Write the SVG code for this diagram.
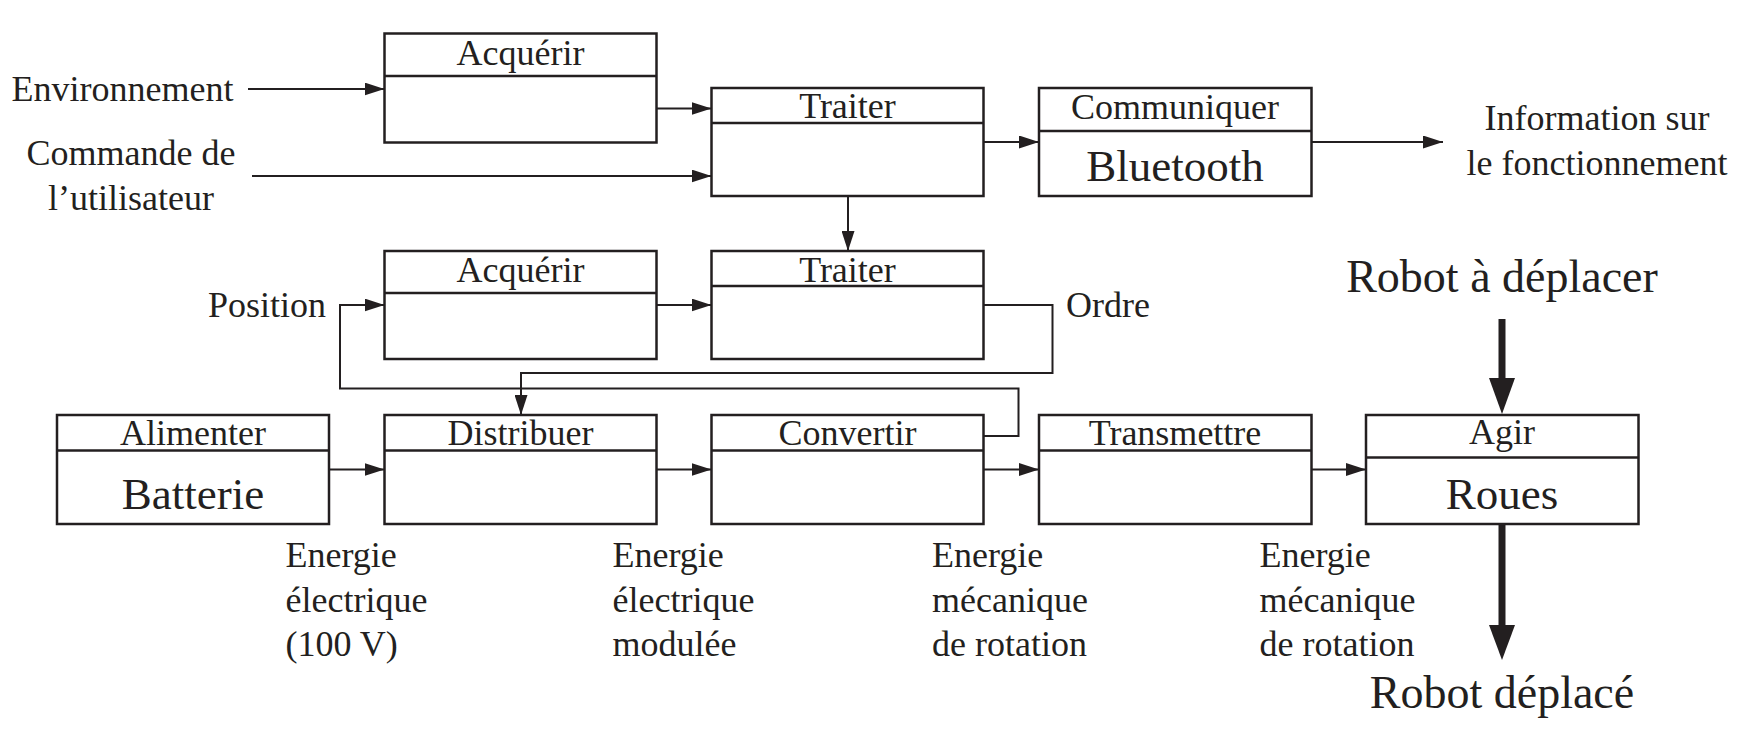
<svg xmlns="http://www.w3.org/2000/svg" width="1740" height="745" viewBox="0 0 1740 745">
<style>
  text { font-family: "Liberation Serif", "Times New Roman", serif; fill: #231f20; }
  .h { font-size: 36px; text-anchor: middle; }
  .big { font-size: 45px; text-anchor: middle; }
  .lbl { font-size: 36px; }
  .huge { font-size: 46px; text-anchor: middle; }
  .box { fill: #ffffff; stroke: #231f20; stroke-width: 2.5; }
  .div { stroke: #231f20; stroke-width: 2.5; }
  .c { fill: none; stroke: #231f20; stroke-width: 2; }
  .ca { fill: none; stroke: #231f20; stroke-width: 2; marker-end: url(#arr); }
</style>
<defs>
  <marker id="arr" viewBox="0 0 20 13" refX="20" refY="6.5" markerWidth="20" markerHeight="13" markerUnits="userSpaceOnUse" orient="auto">
    <path d="M0,0 L20,6.5 L0,13 Z" fill="#231f20"/>
  </marker>
</defs>
<rect width="1740" height="745" fill="#ffffff"/>

<g id="connectors">
  <line class="ca" x1="248" y1="89" x2="384.5" y2="89"/>
  <line class="ca" x1="656.5" y1="108.5" x2="711.5" y2="108.5"/>
  <line class="ca" x1="252" y1="176" x2="711.5" y2="176"/>
  <line class="ca" x1="983.5" y1="142" x2="1039" y2="142"/>
  <line class="ca" x1="1311.5" y1="142" x2="1443" y2="142"/>
  <line class="ca" x1="848" y1="196" x2="848" y2="251"/>
  <path class="ca" d="M983.5,436 H1018.5 V388.5 H340 V305 H384.5"/>
  <line class="ca" x1="656.5" y1="305" x2="711.5" y2="305"/>
  <path class="ca" d="M983.5,305 H1052.5 V373 H521 V415"/>
  <line class="ca" x1="329" y1="469.5" x2="384.5" y2="469.5"/>
  <line class="ca" x1="656.5" y1="469.5" x2="711.5" y2="469.5"/>
  <line class="ca" x1="983.5" y1="469.5" x2="1039" y2="469.5"/>
  <line class="ca" x1="1311.5" y1="469.5" x2="1366" y2="469.5"/>
  <line x1="1502" y1="319" x2="1502" y2="380" stroke="#231f20" stroke-width="7"/>
  <polygon points="1489,378 1515,378 1502,414" fill="#231f20"/>
  <line x1="1502" y1="524" x2="1502" y2="627" stroke="#231f20" stroke-width="7"/>
  <polygon points="1489,625 1515,625 1502,660" fill="#231f20"/>
</g>

<g id="acquerir1">
  <rect class="box" x="384.5" y="33.5" width="272" height="109"/>
  <line class="div" x1="384.5" y1="76" x2="656.5" y2="76"/>
  <text class="h" x="520.5" y="64.5">Acquérir</text>
</g>
<g id="traiter1">
  <rect class="box" x="711.5" y="88" width="272" height="108"/>
  <line class="div" x1="711.5" y1="123" x2="983.5" y2="123"/>
  <text class="h" x="847.5" y="117.5">Traiter</text>
</g>
<g id="communiquer">
  <rect class="box" x="1039" y="88" width="272.5" height="108"/>
  <line class="div" x1="1039" y1="131" x2="1311.5" y2="131"/>
  <text class="h" x="1175" y="118.5">Communiquer</text>
  <text class="big" x="1175" y="181">Bluetooth</text>
</g>
<g id="acquerir2">
  <rect class="box" x="384.5" y="251" width="272" height="108"/>
  <line class="div" x1="384.5" y1="293" x2="656.5" y2="293"/>
  <text class="h" x="520.5" y="282">Acquérir</text>
</g>
<g id="traiter2">
  <rect class="box" x="711.5" y="251" width="272" height="108"/>
  <line class="div" x1="711.5" y1="286" x2="983.5" y2="286"/>
  <text class="h" x="847.5" y="281.5">Traiter</text>
</g>
<g id="alimenter">
  <rect class="box" x="57" y="415" width="272" height="109"/>
  <line class="div" x1="57" y1="450.5" x2="329" y2="450.5"/>
  <text class="h" x="193" y="444.5">Alimenter</text>
  <text class="big" x="193" y="508.5">Batterie</text>
</g>
<g id="distribuer">
  <rect class="box" x="384.5" y="415" width="272" height="109"/>
  <line class="div" x1="384.5" y1="450.5" x2="656.5" y2="450.5"/>
  <text class="h" x="520.5" y="444.5">Distribuer</text>
</g>
<g id="convertir">
  <rect class="box" x="711.5" y="415" width="272" height="109"/>
  <line class="div" x1="711.5" y1="450.5" x2="983.5" y2="450.5"/>
  <text class="h" x="847.5" y="444.5">Convertir</text>
</g>
<g id="transmettre">
  <rect class="box" x="1039" y="415" width="272.5" height="109"/>
  <line class="div" x1="1039" y1="450.5" x2="1311.5" y2="450.5"/>
  <text class="h" x="1175" y="444.5">Transmettre</text>
</g>
<g id="agir">
  <rect class="box" x="1366" y="415" width="272.5" height="109"/>
  <line class="div" x1="1366" y1="457.5" x2="1638.5" y2="457.5"/>
  <text class="h" x="1502" y="444">Agir</text>
  <text class="big" x="1502" y="508.5">Roues</text>
</g>

<g id="labels">
  <text class="lbl" x="11.5" y="101">Environnement</text>
  <text class="lbl" x="131" y="165" text-anchor="middle">Commande de</text>
  <text class="lbl" x="131" y="210" text-anchor="middle">l’utilisateur</text>
  <text class="lbl" x="1597" y="130" text-anchor="middle">Information sur</text>
  <text class="lbl" x="1597" y="175" text-anchor="middle">le fonctionnement</text>
  <text class="lbl" x="326" y="317" text-anchor="end">Position</text>
  <text class="lbl" x="1066" y="317">Ordre</text>
  <text class="huge" x="1502" y="292">Robot à déplacer</text>
  <text class="huge" x="1502" y="708">Robot déplacé</text>
  <text class="lbl" x="285.5" y="567">Energie</text>
  <text class="lbl" x="285.5" y="611.5">électrique</text>
  <text class="lbl" x="285.5" y="656">(100 V)</text>
  <text class="lbl" x="612.5" y="567">Energie</text>
  <text class="lbl" x="612.5" y="611.5">électrique</text>
  <text class="lbl" x="612.5" y="656">modulée</text>
  <text class="lbl" x="932" y="567">Energie</text>
  <text class="lbl" x="932" y="611.5">mécanique</text>
  <text class="lbl" x="932" y="656">de rotation</text>
  <text class="lbl" x="1259.5" y="567">Energie</text>
  <text class="lbl" x="1259.5" y="611.5">mécanique</text>
  <text class="lbl" x="1259.5" y="656">de rotation</text>
</g>
</svg>
